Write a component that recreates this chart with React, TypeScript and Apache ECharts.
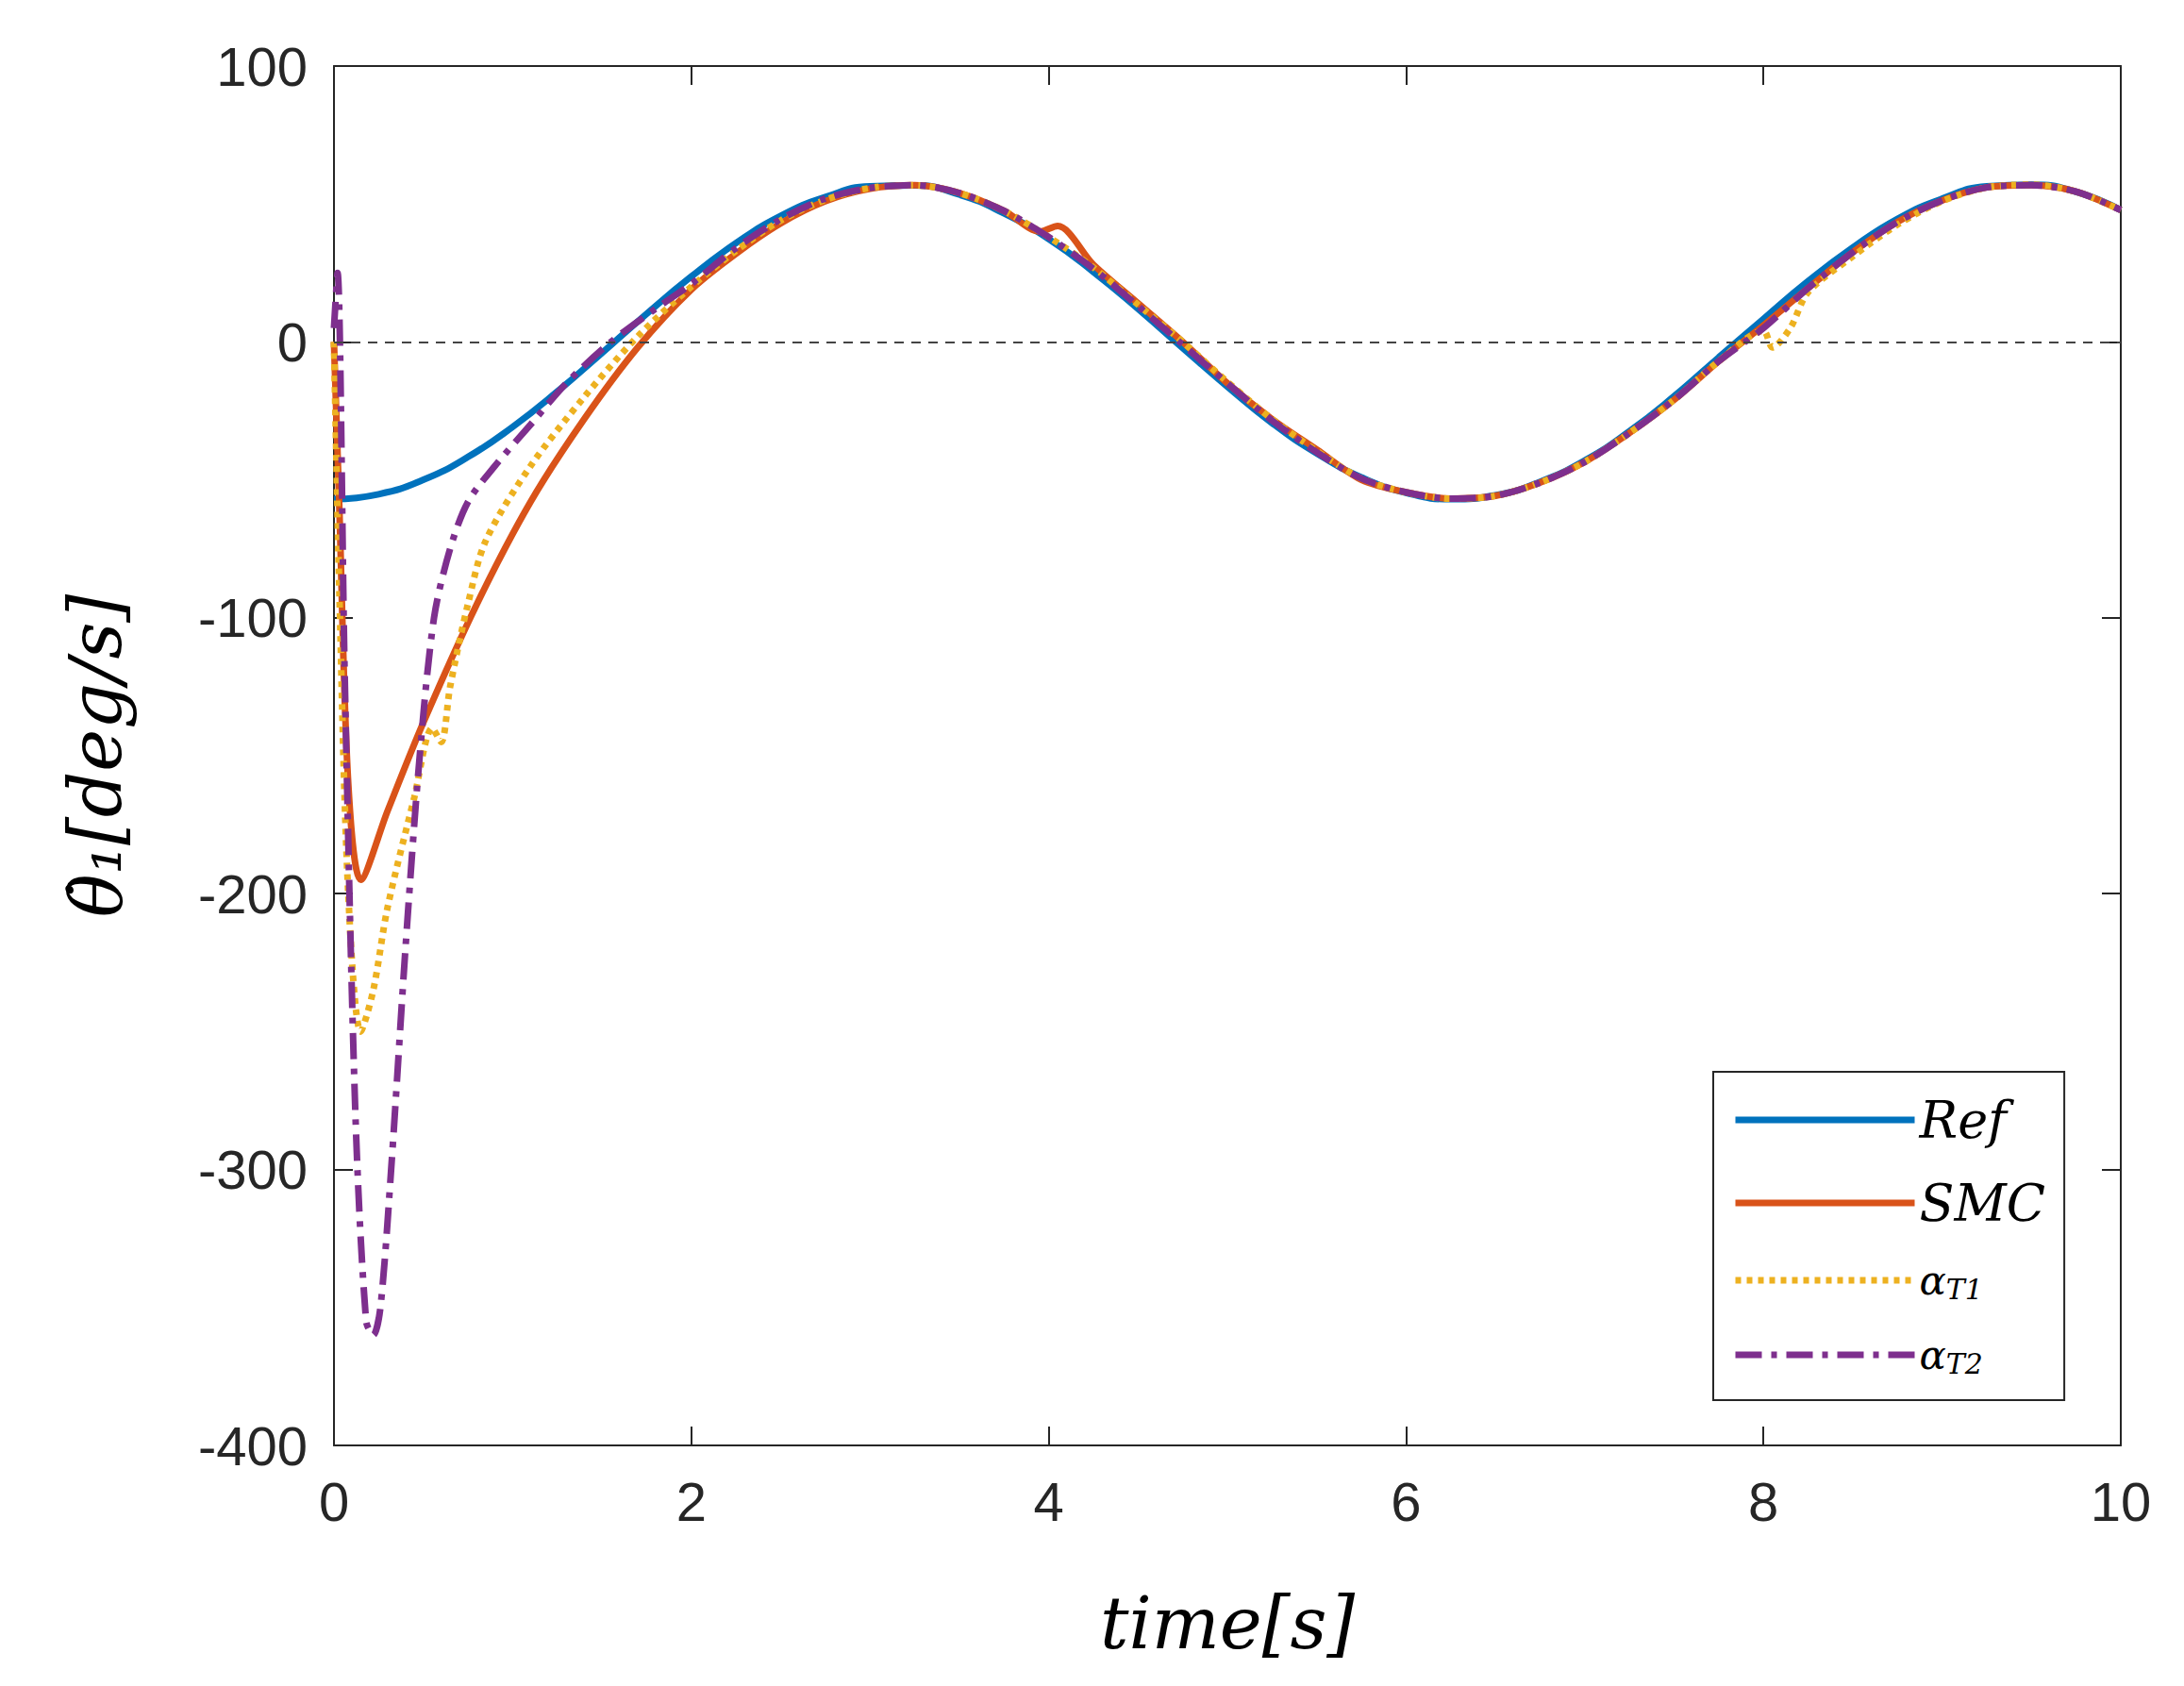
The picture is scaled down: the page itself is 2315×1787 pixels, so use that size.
import { useRef, useEffect } from 'react';
import * as echarts from 'echarts';

// time grid for the tracking part (shared)
const tailT = [2, 2.25, 2.5, 2.75, 3, 3.25, 3.5, 3.75, 4, 4.25, 4.5, 4.75, 5, 5.25, 5.5, 5.75, 6, 6.25, 6.5, 6.75, 7, 7.25, 7.5, 7.75, 8, 8.25, 8.5, 8.75, 9, 9.25, 9.5, 9.75, 10];

const refT = [0, 0.25, 0.5, 0.75, 1, 1.25, 1.5, 1.75, ...tailT];
const refV = [-57, -55.2, -50, -41.7, -30.8, -18, -4, 10.2, 23.7, 35.8, 45.7, 52.5, 56.4, 56.7, 53.4, 46.6, 37.3, 25.4, 12, -2.2, -16.2, -29.4, -40.4, -49.1, -54.7, -57, -55.6, -50.7, -43, -32.4, -19.7, -5.6, 8.3, 22, 34.2, 44.6, 51.9, 56.4, 57, 54.4, 47.8];

const smcT = [0, 0.03, 0.08, 0.15, 0.3, 0.5, 0.8, 1.1, 1.4, 1.7, 2, 2.25, 2.5, 2.75, 3, 3.25, 3.5, 3.75, 3.95, 4.05, 4.25, 4.5, 4.75, 5, 5.25, 5.5, 5.75, 6, 6.25, 6.5, 6.75, 7, 7.25, 7.5, 7.75, 8, 8.25, 8.5, 8.75, 9, 9.25, 9.5, 9.75, 10];
const smcV = [0, -60, -160, -195, -170, -138, -95, -58, -28, -2, 19, 32, 43, 51, 55.5, 56.8, 54, 47.5, 40, 42, 28, 14, 0, -15, -28, -39, -50, -54.5, -56.8, -55.8, -51, -43.5, -33, -21, -7, 6, 19.5, 32.5, 43.5, 51.3, 56, 56.8, 54.5, 47.8];

const t1T = [0, 0.03, 0.08, 0.15, 0.22, 0.3, 0.45, 0.55, 0.6, 0.65, 0.75, 0.85, 1.1, 1.4, 1.7, 2, 2.25, 2.5, 2.75, 3, 3.25, 3.5, 3.75, 4, 4.25, 4.5, 4.75, 5, 5.25, 5.5, 5.75, 6, 6.25, 6.5, 6.75, 7, 7.25, 7.5, 7.75, 8, 8.05, 8.15, 8.25, 8.5, 8.75, 9, 9.25, 9.5, 9.75, 10];
const t1V = [0, -90, -200, -250, -235, -205, -165, -140, -145, -125, -95, -72, -45, -20, 2, 20, 33, 44, 51.5, 55.8, 56.8, 54, 47.5, 38, 27, 13.5, 0, -14.5, -28, -39.5, -49.5, -54.5, -56.8, -55.8, -51, -43.5, -33, -21, -7, 4, -2, 5, 18, 31, 42.5, 51, 56, 57, 54.5, 47.8];

const t2T = [0, 0.02, 0.06, 0.12, 0.18, 0.22, 0.26, 0.32, 0.4, 0.48, 0.56, 0.65, 0.75, 0.9, 1.1, 1.3, 1.55, 1.8, 2, 2.25, 2.5, 2.75, 3, 3.25, 3.5, 3.75, 4, 4.25, 4.5, 4.75, 5, 5.25, 5.5, 5.75, 6, 6.25, 6.5, 6.75, 7, 7.25, 7.5, 7.75, 8, 8.25, 8.5, 8.75, 9, 9.25, 9.5, 9.75, 10];
const t2V = [5, 25, -120, -280, -355, -360, -350, -300, -220, -150, -100, -75, -58, -45, -30, -15, 0, 12, 21, 34, 44.5, 52, 55.8, 56.8, 54, 47.5, 38, 26.5, 13, -1, -15, -28.5, -40, -49.5, -54.5, -56.8, -55.8, -51, -43.5, -33, -21, -7, 5, 19.5, 32.5, 43.5, 51.3, 56, 56.8, 54.5, 47.8];

const xTicks = [0, 2, 4, 6, 8, 10];
const yTicks = [-400, -300, -200, -100, 0, 100];

const pairs = (t: number[], v: number[]) => t.map((x, i) => [x, v[i]]);

const FONT = 'Liberation Sans, Arial, sans-serif';
const TXT = '#262626';

export default function App() {
  const ref = useRef<HTMLDivElement>(null);

  useEffect(() => {
    if (!ref.current) return;
    const chart = echarts.init(ref.current, undefined, { renderer: 'svg' });

    const axisBase = {
      type: 'value' as const,
      axisLine: { show: true, onZero: false, lineStyle: { color: TXT, width: 2 } },
      axisTick: { show: true, inside: true, length: 20, lineStyle: { color: TXT, width: 2 } },
      splitLine: { show: false },
    };

    const legendRich = {
      i: { fontFamily: 'DejaVu Serif, serif', fontStyle: 'italic' as const, fontSize: 54, color: '#000' },
      a: { fontFamily: 'DejaVu Serif, serif', fontStyle: 'italic' as const, fontSize: 42, color: '#000' },
      s: { fontFamily: 'DejaVu Serif, serif', fontStyle: 'italic' as const, fontSize: 30, color: '#000', verticalAlign: 'bottom' as const, padding: [18, 0, 0, 0] },
    };

    chart.setOption({
      animation: false,
      backgroundColor: '#fff',
      grid: { left: 346, right: 59, top: 62, bottom: 247 },
      xAxis: [
        {
          ...axisBase,
          min: 0, max: 10, interval: 2,
          axisLabel: { color: TXT, fontSize: 58, fontFamily: FONT, margin: 30, formatter: (v: number) => (xTicks.includes(v) ? String(v) : '') },
          name: 'time[s]',
          nameLocation: 'middle',
          nameGap: 150,
          nameTextStyle: { fontFamily: 'DejaVu Serif, serif', fontStyle: 'italic', fontSize: 76, color: '#000' },
        },
        { ...axisBase, position: 'top', min: 0, max: 10, interval: 2, axisLabel: { show: false } },
      ],
      yAxis: [
        {
          ...axisBase,
          min: -400, max: 100, interval: 100,
          axisLabel: { color: TXT, fontSize: 58, fontFamily: FONT, margin: 28, formatter: (v: number) => (yTicks.includes(v) ? String(v) : '') },
          name: 'θ̇₁[deg/s]',
          nameLocation: 'middle',
          nameGap: 215,
          nameRotate: 90,
          nameTextStyle: { fontFamily: 'DejaVu Serif, serif', fontStyle: 'italic', fontSize: 76, color: '#000' },
        },
        { ...axisBase, position: 'right', min: -400, max: 100, interval: 100, axisLabel: { show: false } },
      ],
      legend: {
        orient: 'vertical',
        left: 1808,
        top: 1128,
        width: 400,
        itemWidth: 190,
        itemHeight: 20,
        itemGap: 34,
        padding: [24, 20, 24, 20],
        borderColor: TXT,
        borderWidth: 2,
        backgroundColor: '#fff',
        itemStyle: { opacity: 0 },
        lineStyle: { width: 7 },
        data: ['Ref', 'SMC', 'aT1', 'aT2'],
        formatter: (n: string) => (n === 'aT1' ? '{a|α}{s|T1}' : n === 'aT2' ? '{a|α}{s|T2}' : `{i|${n}}`),
        textStyle: { rich: legendRich },
      },
      series: [
        {
          name: 'Ref', type: 'line', smooth: true, showSymbol: false, symbol: 'none',
          data: pairs(refT, refV),
          lineStyle: { color: '#0072BD', width: 7 }, itemStyle: { color: '#0072BD' },
          markLine: {
            silent: true, symbol: 'none', label: { show: false },
            lineStyle: { color: '#444', type: [10, 8], width: 2 },
            data: [{ yAxis: 0 }],
          },
        },
        {
          name: 'SMC', type: 'line', smooth: 0.3, showSymbol: false, symbol: 'none',
          data: pairs(smcT, smcV),
          lineStyle: { color: '#D95319', width: 7 }, itemStyle: { color: '#D95319' },
        },
        {
          name: 'aT1', type: 'line', smooth: 0.3, showSymbol: false, symbol: 'none',
          data: pairs(t1T, t1V),
          lineStyle: { color: '#EDB120', width: 7, type: [6, 6] }, itemStyle: { color: '#EDB120' },
        },
        {
          name: 'aT2', type: 'line', smooth: 0.3, showSymbol: false, symbol: 'none',
          data: pairs(t2T, t2V),
          lineStyle: { color: '#7E2F8E', width: 7, type: [28, 10, 6, 10] }, itemStyle: { color: '#7E2F8E' },
        },
      ],
    });

    return () => chart.dispose();
  }, []);

  return <div ref={ref} style={{ width: 2299, height: 1771, background: '#fff' }} />;
}
